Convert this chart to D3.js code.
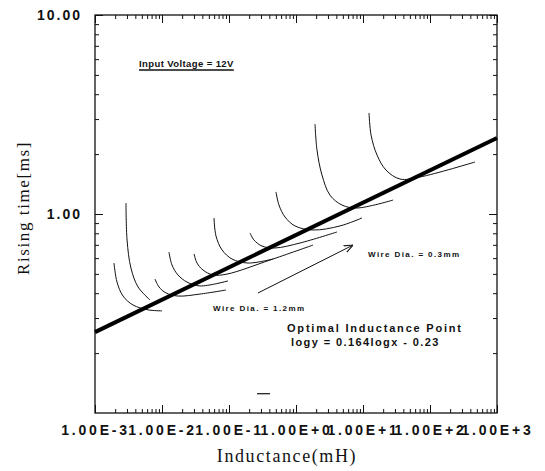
<!DOCTYPE html>
<html lang="en">
<head>
<meta charset="utf-8">
<title>Rising time vs Inductance</title>
<script src="https://cdn.jsdelivr.net/npm/d3@7"></script>
<style>
  body { margin: 0; background: #fff; }
  svg { display: block; }
  .tick text { font-family: "Liberation Sans", Arial, sans-serif; font-weight: bold; font-size: 14px; letter-spacing: 2px; fill: #111; }
  .xlab .tick text { letter-spacing: 2.8px; }
  .note { font-family: "Liberation Sans", Arial, sans-serif; font-weight: bold; fill: #111; }
  .title { font-family: "Liberation Serif", "Times New Roman", serif; fill: #111; }
</style>
</head>
<body>
<script>
var w = 545, h = 471;
var plotL = 95, plotR = 497, plotT = 15, plotB = 413;

// axis ticks and labels
var xTickValues = [1e-3, 1e-2, 1e-1, 1, 1e1, 1e2, 1e3];
var xTickLabels = ["1.00E-3", "1.00E-2", "1.00E-1", "1.00E+0", "1.00E+1", "1.00E+2", "1.00E+3"];
var yTickValues = [10, 1];
var yTickLabels = ["10.00", "1.00"];

// rising time curves, one per winding (inductance mH, rising time ms)
var curve1 = [[0.00192, 0.567], [0.00213, 0.455], [0.00262, 0.387], [0.00369, 0.349], [0.00618, 0.330], [0.0100, 0.326]];
var curve2 = [[0.00290, 1.135], [0.00301, 0.740], [0.00344, 0.535], [0.00439, 0.430], [0.00662, 0.370]];
var curve3 = [[0.00787, 0.471], [0.00902, 0.430], [0.0115, 0.401], [0.0173, 0.387], [0.0369, 0.396], [0.0902, 0.415]];
var curve4 = [[0.0127, 0.644], [0.0141, 0.554], [0.0173, 0.494], [0.0236, 0.455], [0.0369, 0.435], [0.0966, 0.461]];
var curve5 = [[0.0301, 0.630], [0.0333, 0.567], [0.0409, 0.523], [0.0577, 0.494], [0.0933, 0.499], [0.409, 0.587], [1.795, 0.698]];
var curve6 = [[0.0597, 0.955], [0.0640, 0.775], [0.0787, 0.660], [0.111, 0.594], [0.192, 0.567], [0.454, 0.594]];
var curve7 = [[0.206, 0.803], [0.236, 0.740], [0.311, 0.690], [0.486, 0.675], [1.148, 0.715], [4.09, 0.812]];
var curve8 = [[0.502, 1.291], [0.557, 1.109], [0.685, 0.966], [0.966, 0.871], [1.795, 0.831], [4.54, 0.871], [9.66, 0.955]];
var curve9 = [[1.923, 2.83], [2.056, 2.10], [2.44, 1.571], [3.21, 1.245], [4.86, 1.109], [8.13, 1.072], [28.1, 1.175]];
var curve10 = [[12.3, 3.22], [13.2, 2.49], [16.2, 1.978], [22.0, 1.664], [35.6, 1.499], [71.0, 1.535], [470, 1.825]];
var curves = [curve1, curve2, curve3, curve4, curve5, curve6, curve7, curve8, curve9, curve10];

// optimal inductance line, arrow and a stray dash
var fitLine = [[1e-3, 0.255], [1e3, 2.41]];
var arrowLine = [[0.271, 0.401], [7.10, 0.698]];
var strayDash = [[0.262, 0.125], [0.409, 0.125]];

var svg = d3.select("body").append("svg")
    .attr("width", w)
    .attr("height", h);

var x = d3.scaleLog().domain([1e-3, 1e3]).range([plotL, plotR]);
var y = d3.scaleLog().domain([0.1, 10]).range([plotB, plotT]);

var minorX = x.ticks().filter(function(d) { return xTickValues.indexOf(d) < 0; });
var minorY = y.ticks().filter(function(d) { return [0.1, 1, 10].indexOf(d) < 0; });

function clean(g) { g.select(".domain").remove(); }

// minor ticks on all four sides, pointing in
svg.append("g").attr("transform", "translate(0," + plotB + ")")
    .call(d3.axisBottom(x).tickValues(minorX).tickSize(-4).tickFormat("")).call(clean);
svg.append("g").attr("transform", "translate(0," + plotT + ")")
    .call(d3.axisTop(x).tickValues(minorX).tickSize(-4).tickFormat("")).call(clean);
svg.append("g").attr("transform", "translate(" + plotL + ",0)")
    .call(d3.axisLeft(y).tickValues(minorY).tickSize(-4).tickFormat("")).call(clean);
svg.append("g").attr("transform", "translate(" + plotR + ",0)")
    .call(d3.axisRight(y).tickValues(minorY).tickSize(-4).tickFormat("")).call(clean);

// major ticks with labels
svg.append("g").attr("class", "xlab").attr("transform", "translate(0," + plotB + ")")
    .call(d3.axisBottom(x).tickValues(xTickValues).tickSize(-8).tickPadding(12)
        .tickFormat(function(d, i) { return xTickLabels[i]; }))
    .call(clean);
svg.append("g").attr("transform", "translate(0," + plotT + ")")
    .call(d3.axisTop(x).tickValues(xTickValues).tickSize(-8).tickFormat("")).call(clean);
svg.append("g").attr("transform", "translate(" + plotL + ",0)")
    .call(d3.axisLeft(y).tickValues(yTickValues).tickSize(-8).tickPadding(13)
        .tickFormat(function(d, i) { return yTickLabels[i]; }))
    .call(clean);
svg.append("g").attr("transform", "translate(" + plotR + ",0)")
    .call(d3.axisRight(y).tickValues(yTickValues).tickSize(-8).tickFormat("")).call(clean);

svg.selectAll(".tick line").attr("stroke", "#111").attr("stroke-width", 1);

// frame
svg.append("rect")
    .attr("x", plotL).attr("y", plotT)
    .attr("width", plotR - plotL).attr("height", plotB - plotT)
    .attr("fill", "none").attr("stroke", "#111").attr("stroke-width", 1.3);

var line = d3.line()
    .x(function(d) { return x(d[0]); })
    .y(function(d) { return y(d[1]); });

var smooth = d3.line()
    .x(function(d) { return x(d[0]); })
    .y(function(d) { return y(d[1]); })
    .curve(d3.curveCatmullRom.alpha(0.5));

svg.selectAll("path.curve")
    .data(curves)
    .enter()
    .append("path")
    .attr("class", "curve")
    .attr("d", smooth)
    .attr("fill", "none")
    .attr("stroke", "#111")
    .attr("stroke-width", 1);

svg.append("path")
    .attr("d", line(fitLine))
    .attr("fill", "none")
    .attr("stroke", "#000")
    .attr("stroke-width", 4);

// arrow
svg.append("defs").append("marker")
    .attr("id", "head")
    .attr("viewBox", "0 0 10 10")
    .attr("refX", 10).attr("refY", 5)
    .attr("markerWidth", 9).attr("markerHeight", 9)
    .attr("markerUnits", "userSpaceOnUse")
    .attr("orient", "auto")
    .append("path")
    .attr("d", "M0,1L10,5L0,9")
    .attr("fill", "none")
    .attr("stroke", "#111")
    .attr("stroke-width", 1.2);

svg.append("path")
    .attr("d", line(arrowLine))
    .attr("stroke", "#111")
    .attr("stroke-width", 1)
    .attr("marker-end", "url(#head)");

svg.append("path")
    .attr("d", line(strayDash))
    .attr("stroke", "#111")
    .attr("stroke-width", 1.2);

// notes
var inputNote = svg.append("text")
    .attr("class", "note")
    .attr("x", 139).attr("y", 67)
    .attr("font-size", "9.5px")
    .attr("letter-spacing", "0.4px")
    .text("Input Voltage = 12V");
var noteLen = inputNote.node().getComputedTextLength();
svg.append("line")
    .attr("x1", 139).attr("x2", 139 + noteLen)
    .attr("y1", 70).attr("y2", 70)
    .attr("stroke", "#111").attr("stroke-width", 1.6);

svg.append("text")
    .attr("class", "note")
    .attr("x", 368).attr("y", 257)
    .attr("font-size", "8px")
    .attr("letter-spacing", "1.4px")
    .text("Wire Dia. = 0.3mm");

svg.append("text")
    .attr("class", "note")
    .attr("x", 213).attr("y", 311)
    .attr("font-size", "8px")
    .attr("letter-spacing", "1.4px")
    .text("Wire Dia. = 1.2mm");

svg.append("text")
    .attr("class", "note")
    .attr("x", 287).attr("y", 332)
    .attr("font-size", "11px")
    .attr("letter-spacing", "1.8px")
    .text("Optimal Inductance Point");

svg.append("text")
    .attr("class", "note")
    .attr("x", 291).attr("y", 346)
    .attr("font-size", "11px")
    .attr("letter-spacing", "1.4px")
    .text("logy = 0.164logx - 0.23");

// axis titles
svg.append("text")
    .attr("class", "title")
    .attr("text-anchor", "middle")
    .attr("x", 287).attr("y", 462)
    .attr("font-size", "18px")
    .attr("letter-spacing", "1.6px")
    .text("Inductance(mH)");

svg.append("text")
    .attr("class", "title")
    .attr("text-anchor", "middle")
    .attr("transform", "translate(29,208) rotate(-90)")
    .attr("font-size", "17px")
    .attr("letter-spacing", "1.6px")
    .text("Rising time[ms]");
</script>
</body>
</html>
